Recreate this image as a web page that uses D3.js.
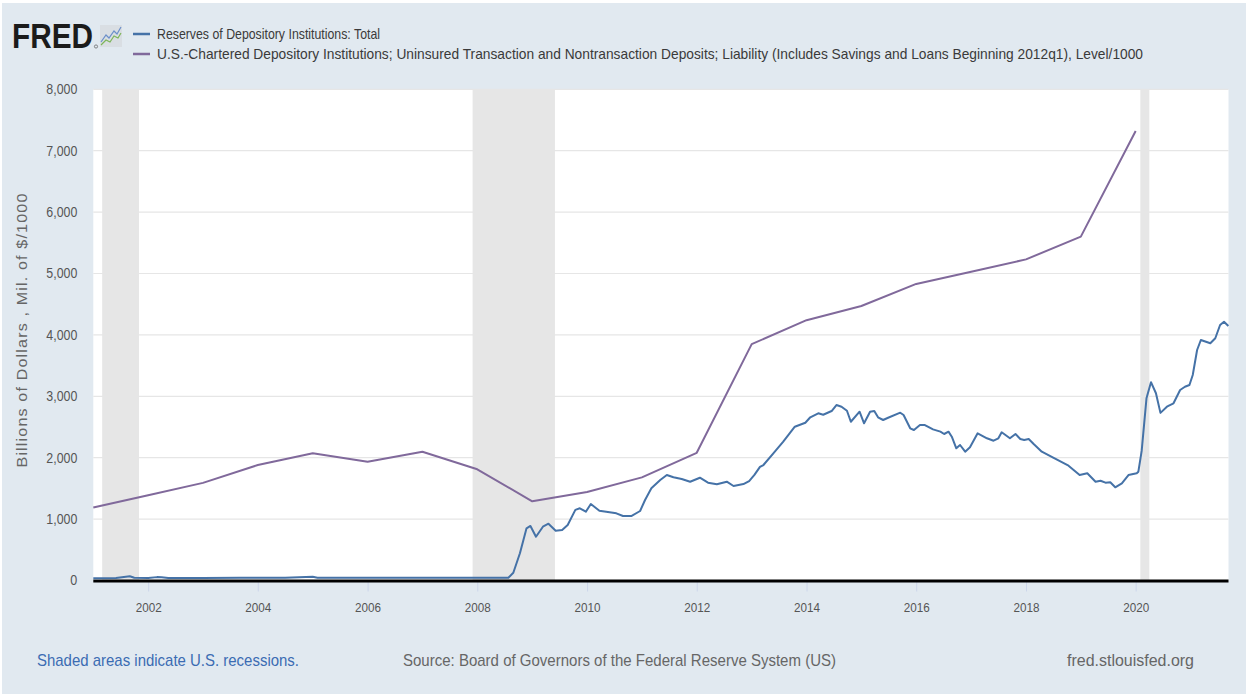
<!DOCTYPE html>
<html>
<head>
<meta charset="utf-8">
<script src="https://cdn.jsdelivr.net/npm/d3@7"></script>
<style>
  body { margin: 0; background: #fff; }
  text { font-family: "Liberation Sans", Arial, sans-serif; }
</style>
</head>
<body>
<div id="chart"></div>
<script>
// purple series, annual points (Level/1000)
var depositDates = ["2001-01-01","2002-01-01","2003-01-01","2004-01-01","2005-01-01","2006-01-01","2007-01-01",
  "2008-01-01","2009-01-01","2010-01-01","2011-01-01","2012-01-01","2013-01-01","2014-01-01","2015-01-01",
  "2016-01-01","2017-01-01","2018-01-01","2019-01-01","2020-01-01"];
var depositValues = [1190,1390,1590,1880,2072,1935,2098,1811,1290,1440,1680,2080,3850,4240,4470,4830,5030,5230,5600,7320];

// blue series, reserves (billions)
var reserveDates = ["2001-01-01","2001-06-01","2001-09-01","2001-10-01","2002-01-01","2002-03-01","2002-04-01","2002-05-15",
  "2003-01-01","2003-09-01","2004-07-01","2005-01-01","2005-02-01","2006-01-01","2007-01-01","2008-01-01","2008-07-26",
  "2008-08-28","2008-10-11","2008-11-24","2008-12-20","2009-01-26","2009-03-13","2009-04-19","2009-06-06","2009-07-19",
  "2009-08-25","2009-10-15","2009-11-14","2009-12-24","2010-01-26","2010-03-24","2010-07-15","2010-08-28","2010-10-22",
  "2010-12-20","2011-01-22","2011-03-05","2011-05-03","2011-06-16","2011-07-30","2011-09-23","2011-11-18","2012-01-22",
  "2012-03-16","2012-05-14","2012-07-19","2012-09-02","2012-11-07","2012-12-15","2013-01-19","2013-02-25","2013-03-20",
  "2013-05-25","2013-07-30","2013-10-15","2013-12-02","2013-12-24","2014-01-26","2014-03-20","2014-04-22","2014-06-17",
  "2014-07-19","2014-08-22","2014-09-27","2014-10-23","2014-12-20","2015-01-19","2015-02-28","2015-03-28","2015-04-22",
  "2015-05-26","2015-06-28","2015-09-17","2015-10-09","2015-11-22","2015-12-17","2016-01-26","2016-02-28","2016-04-22",
  "2016-06-10","2016-07-05","2016-08-03","2016-08-25","2016-09-24","2016-10-19","2016-11-22","2016-12-24","2017-02-13",
  "2017-04-16","2017-05-30","2017-07-01","2017-07-23","2017-09-16","2017-10-23","2017-11-24","2017-12-20","2018-01-19",
  "2018-02-21","2018-04-16","2018-07-01","2018-10-11","2018-11-14","2018-12-24","2019-02-13","2019-04-09","2019-05-12",
  "2019-06-14","2019-07-16","2019-08-18","2019-10-01","2019-11-14","2020-01-08","2020-01-19","2020-02-10","2020-03-13",
  "2020-04-12","2020-05-15","2020-06-14","2020-07-27","2020-09-09","2020-10-23","2020-11-24","2020-12-24","2021-01-15",
  "2021-02-13","2021-03-10","2021-05-12","2021-06-14","2021-07-16","2021-08-11","2021-09-09"];
var reserveValues = [38,40,70,45,40,55,52,40,
  42,44,45,60,46,44,43,43,45,
  127,443,850,888,713,876,925,810,822,
  904,1150,1176,1121,1246,1137,1094,1050,1050,
  1132,1311,1501,1637,1718,1681,1653,1609,1674,
  1593,1567,1609,1539,1570,1620,1720,1850,1881,
  2071,2261,2505,2549,2570,2658,2723,2700,2760,
  2858,2831,2765,2586,2749,2560,2749,2760,2658,
  2614,2651,2733,2695,2479,2451,2532,2532,2462,
  2424,2386,2424,2342,2153,2207,2098,2169,2397,
  2316,2277,2316,2414,2316,2386,2304,2288,2304,
  2223,2098,2000,1870,1800,1718,1746,1609,1625,
  1593,1599,1518,1583,1718,1746,1772,2110,2967,
  3230,3050,2730,2831,2886,3103,3156,3184,3347,
  3754,3917,3863,3945,4161,4215,4145];

var recessionStarts = ["2001-03-01","2007-12-01","2020-02-01"];
var recessionEnds = ["2001-11-01","2009-06-01","2020-04-01"];

var yTicks = [0,1000,2000,3000,4000,5000,6000,7000,8000];
var xTickYears = [2002,2004,2006,2008,2010,2012,2014,2016,2018,2020];

var legendLabels = ["Reserves of Depository Institutions: Total",
  "U.S.-Chartered Depository Institutions; Uninsured Transaction and Nontransaction Deposits; Liability (Includes Savings and Loans Beginning 2012q1), Level/1000"];
var colors = ["#4572a7", "#80699b"];

var W = 1248, H = 696;
var margin = {top: 89.3, right: 19.5, bottom: 115.5, left: 93.3};
var parseDate = d3.timeParse("%Y-%m-%d");

var svg = d3.select("#chart").append("svg")
  .attr("width", W).attr("height", H);

svg.append("rect").attr("x", 2).attr("y", 3).attr("width", W - 4).attr("height", H - 5)
  .attr("fill", "#e1e9f0");

var x = d3.scaleTime()
  .domain([parseDate("2001-01-01"), parseDate("2021-09-10")])
  .range([margin.left, W - margin.right]);
var y = d3.scaleLinear()
  .domain([0, 8000])
  .range([H - margin.bottom, margin.top]);

// plot background
svg.append("rect")
  .attr("x", margin.left).attr("y", margin.top)
  .attr("width", W - margin.right - margin.left)
  .attr("height", H - margin.bottom - margin.top)
  .attr("fill", "#fff");

// gridlines
svg.append("g").selectAll("line")
  .data(yTicks.filter(function(d){ return d > 0; }))
  .enter().append("line")
  .attr("x1", margin.left).attr("x2", W - margin.right)
  .attr("y1", function(d){ return y(d); }).attr("y2", function(d){ return y(d); })
  .attr("stroke", "#e6e6e6").attr("stroke-width", 1.2);

// recessions
svg.append("g").selectAll("rect")
  .data(recessionStarts)
  .enter().append("rect")
  .attr("x", function(d){ return x(parseDate(d)); })
  .attr("width", function(d, i){ return x(parseDate(recessionEnds[i])) - x(parseDate(d)); })
  .attr("y", margin.top)
  .attr("height", H - margin.bottom - margin.top)
  .attr("fill", "#e6e6e6");

// x axis
var xAxis = svg.append("g")
  .attr("transform", "translate(0," + (H - margin.bottom) + ")")
  .call(d3.axisBottom(x)
    .tickValues(xTickYears.map(function(yr){ return new Date(yr, 0, 1); }))
    .tickFormat(d3.timeFormat("%Y"))
    .tickSize(11).tickPadding(11));
xAxis.select(".domain").remove();
xAxis.selectAll("line").attr("stroke", "#ccd6eb");
xAxis.selectAll("text").attr("fill", "#555").style("font-size", "13px")
  .attr("textLength", 26).attr("lengthAdjust", "spacingAndGlyphs");

// y axis
var yAxis = svg.append("g")
  .attr("transform", "translate(" + margin.left + ",0)")
  .call(d3.axisLeft(y).tickValues(yTicks).tickFormat(d3.format(",")).tickSize(0).tickPadding(16));
yAxis.select(".domain").remove();
yAxis.selectAll("text").attr("fill", "#555").style("font-size", "14px")
  .attr("textLength", function(d){ return d === 0 ? 7 : 31; })
  .attr("lengthAdjust", "spacingAndGlyphs");

svg.append("text")
  .attr("transform", "translate(27," + 330 + ") rotate(-90)")
  .attr("text-anchor", "middle")
  .attr("textLength", 275).attr("lengthAdjust", "spacingAndGlyphs")
  .style("font-size", "14px").style("letter-spacing", "1px").attr("fill", "#666")
  .text("Billions of Dollars , Mil. of $/1000");

// lines
var line = d3.line()
  .x(function(d){ return x(d.date); })
  .y(function(d){ return y(d.value); });

var deposits = depositDates.map(function(d, i){ return {date: parseDate(d), value: depositValues[i]}; });
var reserves = reserveDates.map(function(d, i){ return {date: parseDate(d), value: reserveValues[i]}; });

// baseline
svg.append("line")
  .attr("x1", margin.left).attr("x2", W - margin.right)
  .attr("y1", y(0) + 0.5).attr("y2", y(0) + 0.5)
  .attr("stroke", "#000").attr("stroke-width", 3);

svg.append("path").datum(deposits)
  .attr("d", line).attr("fill", "none")
  .attr("stroke", colors[1]).attr("stroke-width", 2).attr("stroke-linejoin", "round");

svg.append("path").datum(reserves)
  .attr("d", line).attr("fill", "none")
  .attr("stroke", colors[0]).attr("stroke-width", 2).attr("stroke-linejoin", "round");

// FRED logo
svg.append("text")
  .attr("x", 12).attr("y", 48)
  .attr("textLength", 81).attr("lengthAdjust", "spacingAndGlyphs")
  .style("font-size", "35px").style("font-weight", "bold")
  .attr("fill", "#1b1b1b").text("FRED");
// registered mark, drawn as a tiny ring
svg.append("circle").attr("cx", 96).attr("cy", 46.5).attr("r", 1.6)
  .attr("fill", "none").attr("stroke", "#444").attr("stroke-width", 0.6);
var icon = svg.append("g").attr("transform", "translate(100,25)");
icon.append("rect").attr("width", 22).attr("height", 22).attr("fill", "#d9dee3");
icon.append("path").attr("d", "M1,17 L6,10 L9,13 L14,6 L17,9 L21,2")
  .attr("fill", "none").attr("stroke", "#6b8fc9").attr("stroke-width", 1.2);
icon.append("path").attr("d", "M1,20 L6,15 L10,17 L14,11 L18,13 L21,8")
  .attr("fill", "none").attr("stroke", "#7db55a").attr("stroke-width", 1.2);

// legend
var legendWidths = [223, 986];
var legend = svg.append("g").selectAll("g")
  .data(legendLabels).enter().append("g")
  .attr("transform", function(d, i){ return "translate(133," + (34 + i * 20) + ")"; });
legend.append("line").attr("x1", 0).attr("x2", 17)
  .attr("stroke", function(d, i){ return colors[i]; }).attr("stroke-width", 2.5);
legend.append("text").attr("x", 24).attr("dy", "0.35em")
  .attr("textLength", function(d, i){ return legendWidths[i]; })
  .attr("lengthAdjust", "spacingAndGlyphs")
  .style("font-size", "15px").attr("fill", "#3a3a3a")
  .text(function(d){ return d; });

// footer
svg.append("text").attr("x", 37).attr("y", 666)
  .attr("textLength", 262).attr("lengthAdjust", "spacingAndGlyphs")
  .style("font-size", "17px").attr("fill", "#3b6cb3")
  .text("Shaded areas indicate U.S. recessions.");
svg.append("text").attr("x", 403).attr("y", 666)
  .attr("textLength", 433).attr("lengthAdjust", "spacingAndGlyphs")
  .style("font-size", "17px").attr("fill", "#666")
  .text("Source: Board of Governors of the Federal Reserve System (US)");
svg.append("text").attr("x", 1067).attr("y", 666)
  .attr("textLength", 127).attr("lengthAdjust", "spacingAndGlyphs")
  .style("font-size", "17px").attr("fill", "#666")
  .text("fred.stlouisfed.org");
</script>
</body>
</html>
